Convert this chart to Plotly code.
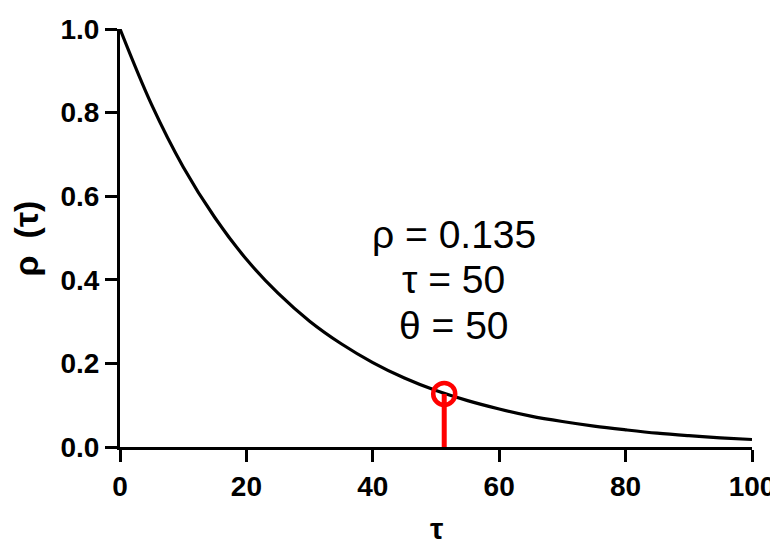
"""
Autocorrelation decay plot: rho(tau) with the marked point near tau = 50.
"""

import plotly.graph_objects as go

# curve
tau = [0, 5, 10, 15, 20, 25, 30, 35, 40, 45, 50, 55, 60, 65, 70, 75, 80, 85, 90, 95, 100]
rho = [1.000, 0.819, 0.670, 0.549, 0.449, 0.368, 0.301, 0.247, 0.202, 0.165, 0.135,
       0.111, 0.091, 0.074, 0.061, 0.050, 0.041, 0.033, 0.027, 0.022, 0.018]

# marked point
tau_mark = 51.3
rho_mark = 0.127

x_ticks = [0, 20, 40, 60, 80, 100]
y_ticks = [0.0, 0.2, 0.4, 0.6, 0.8, 1.0]

label_lines = ["ρ = 0.135", "τ = 50", "θ = 50"]
label_y = [0.508, 0.400, 0.290]

FONT = "Liberation Sans, Arial, sans-serif"

fig = go.Figure()

# decay curve
fig.add_trace(go.Scatter(
    x=tau, y=rho,
    mode="lines",
    line=dict(color="black", width=3.2, shape="spline"),
    cliponaxis=False,
    hoverinfo="skip",
))

# red stem from the axis up to the marker
fig.add_trace(go.Scatter(
    x=[tau_mark, tau_mark], y=[0, rho_mark],
    mode="lines",
    line=dict(color="#ff0000", width=5),
    cliponaxis=False,
    hoverinfo="skip",
))

# red open circle
fig.add_trace(go.Scatter(
    x=[tau_mark], y=[rho_mark],
    mode="markers",
    marker=dict(symbol="circle-open", size=22, color="#ff0000",
                line=dict(color="#ff0000", width=4.5)),
    cliponaxis=False,
    hoverinfo="skip",
))

# parameter labels, one per line
for text, y in zip(label_lines, label_y):
    fig.add_annotation(
        text=text,
        x=52.8, y=y, xref="x", yref="y",
        showarrow=False,
        font=dict(family=FONT, size=39, color="black"),
    )

# axis titles as annotations so they can sit exactly where the reference has them
fig.add_annotation(
    text="ρ\u2002(τ)",
    x=-0.148, y=0.5, xref="paper", yref="paper",
    xanchor="center", yanchor="middle",
    textangle=-90,
    showarrow=False,
    font=dict(family=FONT, size=34, color="black", weight="bold"),
)
fig.add_annotation(
    text="τ",
    x=0.5, y=-0.196, xref="paper", yref="paper",
    xanchor="center", yanchor="middle",
    showarrow=False,
    font=dict(family=FONT, size=30, color="black", weight="bold"),
)

axis_common = dict(
    showline=True, linecolor="black", linewidth=3,
    ticks="outside", ticklen=12, tickwidth=3, tickcolor="black",
    showgrid=False, zeroline=False, automargin=False,
    ticklabeloverflow="allow",
    tickfont=dict(family=FONT, size=28, color="black", weight="bold"),
)

# the page body adds an 8px offset, so margins are shifted by 8px
fig.update_layout(
    width=778, height=546,
    margin=dict(l=112, r=34, t=21, b=107),
    paper_bgcolor="white",
    plot_bgcolor="white",
    showlegend=False,
    xaxis=dict(
        range=[0, 100],
        tickvals=x_ticks,
        ticktext=[str(v) for v in x_ticks],
        **axis_common,
    ),
    yaxis=dict(
        range=[0, 1],
        tickvals=y_ticks,
        ticktext=[f"{v:.1f}" for v in y_ticks],
        **axis_common,
    ),
)

fig.write_html("out.html")
